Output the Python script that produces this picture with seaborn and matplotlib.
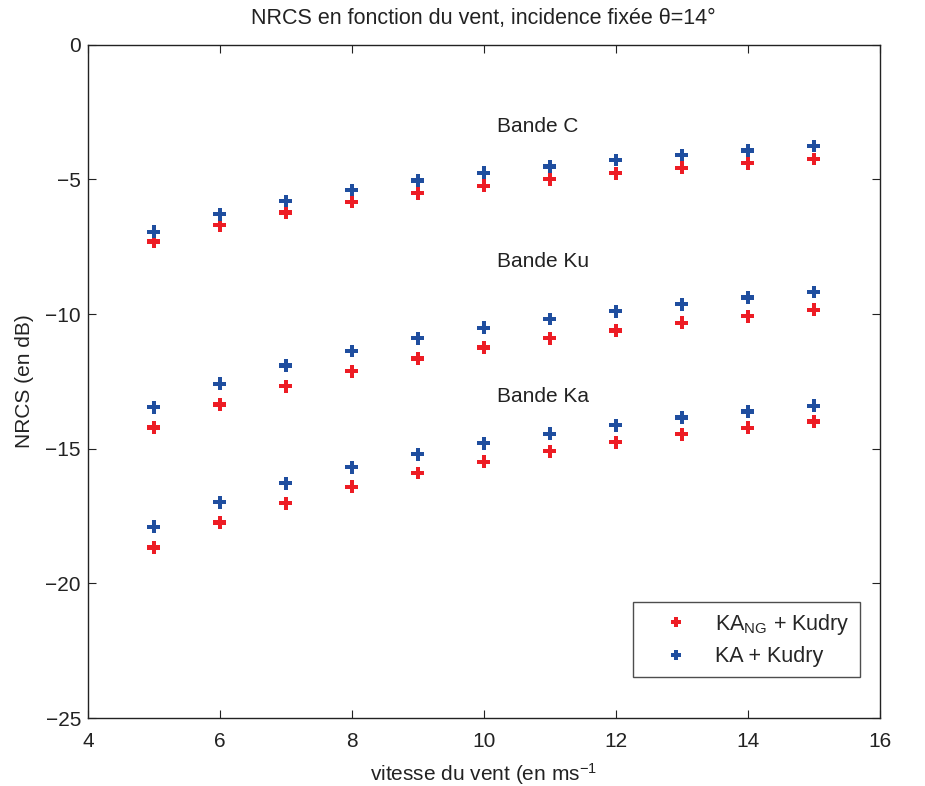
import numpy as np
import pandas as pd
import seaborn as sns
import matplotlib.pyplot as plt

# wind speed (m/s)
vent = [5, 6, 7, 8, 9, 10, 11, 12, 13, 14, 15]

# NRCS (dB), KA_NG + Kudry
c_ng = [-7.30, -6.70, -6.23, -5.84, -5.51, -5.23, -4.99, -4.77, -4.57, -4.40, -4.24]
ku_ng = [-14.21, -13.36, -12.68, -12.12, -11.65, -11.24, -10.90, -10.61, -10.32, -10.08, -9.84]
ka_ng = [-18.67, -17.74, -17.02, -16.41, -15.90, -15.48, -15.09, -14.76, -14.46, -14.22, -13.99]

# NRCS (dB), KA + Kudry
c_ka = [-6.94, -6.29, -5.80, -5.39, -5.04, -4.75, -4.52, -4.28, -4.09, -3.93, -3.76]
ku_ka = [-13.46, -12.59, -11.91, -11.37, -10.90, -10.51, -10.18, -9.89, -9.63, -9.38, -9.18]
ka_ka = [-17.90, -16.99, -16.28, -15.69, -15.20, -14.80, -14.44, -14.13, -13.84, -13.62, -13.40]

label_ng = "KA$_{\\mathregular{NG}}$ + Kudry"
label_ka = "KA + Kudry"

band_names = ["Bande C", "Bande Ku", "Bande Ka"]
band_label_x = [10.2, 10.2, 10.2]
band_label_y = [-3.05, -8.03, -13.05]


def build_frame():
    """Long-form table: one row per point."""
    rows = []
    for model, series in [(label_ng, [c_ng, ku_ng, ka_ng]), (label_ka, [c_ka, ku_ka, ka_ka])]:
        for band, vals in zip(band_names, series):
            for v, n in zip(vent, vals):
                rows.append({"vent": v, "nrcs": n, "model": model, "band": band})
    return pd.DataFrame(rows)


def main():
    df = build_frame()

    sns.set_style("ticks")
    plt.rcParams['font.family'] = ['Liberation Sans', 'DejaVu Sans']
    plt.rcParams['mathtext.fontset'] = 'custom'
    plt.rcParams['mathtext.rm'] = 'Liberation Sans'
    plt.rcParams['mathtext.it'] = 'Liberation Sans'

    fs = 15
    txt = '#222222'

    fig = plt.figure(figsize=(9.25, 7.86), dpi=100)
    ax = fig.add_axes([0.095, 0.0865, 0.856, 0.8565])

    palette = {label_ng: '#ED1C24', label_ka: '#1F4E9F'}
    sns.scatterplot(data=df, x='vent', y='nrcs', hue='model', hue_order=[label_ng, label_ka],
                    palette=palette, marker='P', s=85, linewidth=0, ax=ax)

    for name, tx, ty in zip(band_names, band_label_x, band_label_y):
        ax.text(tx, ty, name, fontsize=fs, color=txt, va='center', ha='left')

    ax.set_xlim(4, 16)
    ax.set_ylim(-25, 0)
    ax.set_xticks(np.arange(4, 17, 2))
    ax.set_yticks(np.arange(-25, 1, 5))
    ax.set_yticklabels(['\u221225', '\u221220', '\u221215', '\u221210', '\u22125', '0'])
    ax.tick_params(direction='in', top=True, right=True, length=6, width=0.8,
                   labelsize=fs, colors=txt, labelcolor=txt)
    ax.tick_params(axis='x', pad=10)
    ax.tick_params(axis='y', pad=5)
    for sp_ in ax.spines.values():
        sp_.set_linewidth(1.0)
        sp_.set_color(txt)

    ax.set_xlabel("vitesse du vent (en ms$^{\u22121}$", fontsize=fs, color=txt, labelpad=7)
    ax.set_ylabel("NRCS (en dB)", fontsize=fs, color=txt, labelpad=8)
    ax.set_title("NRCS en fonction du vent, incidence fixée \u03b8=14°", fontsize=15.5,
                 color=txt, pad=15)

    handles, labels = ax.get_legend_handles_labels()
    leg = ax.legend(handles, labels, loc='lower right', bbox_to_anchor=(0.975, 0.061),
                    borderaxespad=0, fontsize=15.5, frameon=True, fancybox=False,
                    edgecolor=txt, handlelength=3.1, handletextpad=0.3, borderpad=0.45,
                    labelspacing=0.45, markerscale=0.85)
    leg.get_frame().set_linewidth(1.0)

    fig.savefig('out.png', dpi=100, facecolor='white')
    plt.close(fig)


if __name__ == "__main__":
    main()
